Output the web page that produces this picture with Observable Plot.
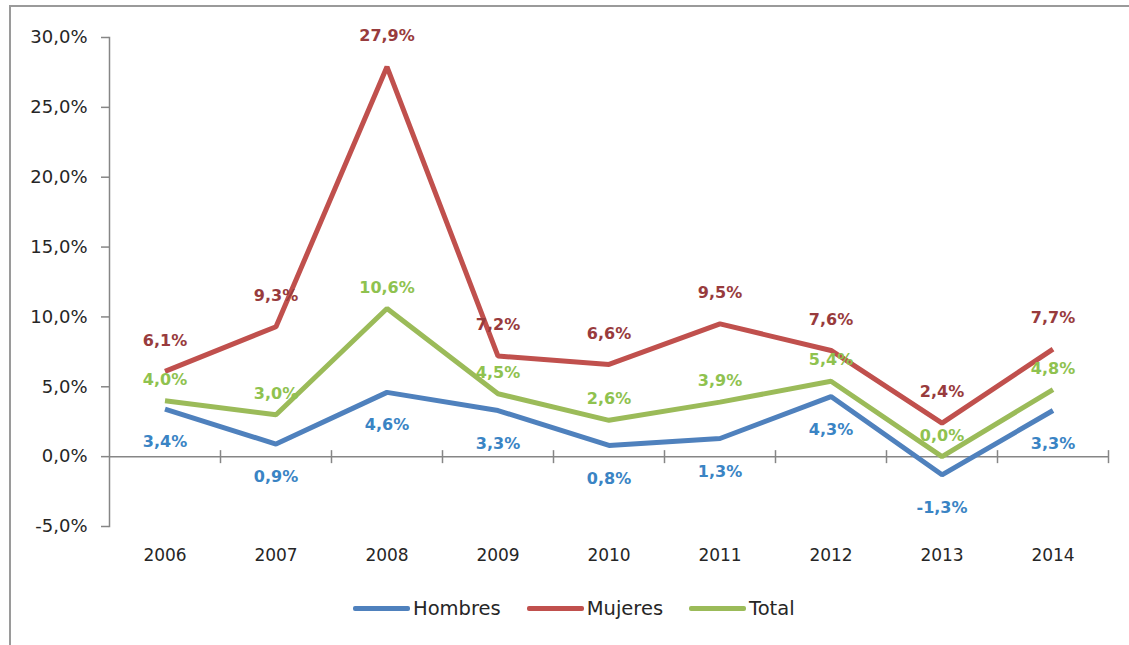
<!DOCTYPE html>
<html>
<head>
<meta charset="utf-8">
<script src="https://cdn.jsdelivr.net/npm/d3@7"></script>
<script src="https://cdn.jsdelivr.net/npm/@observablehq/plot@0.6"></script>
<style>
  html, body { margin: 0; padding: 0; background: #fff; }
  #wrap { position: relative; width: 1129px; height: 645px; overflow: hidden; font-family: "DejaVu Sans", sans-serif; }
  #frame { position: absolute; left: 9px; top: 5px; width: 1200px; height: 700px; border-left: 2px solid #9a9a9a; border-top: 2px solid #9a9a9a; }
  #chart { position: absolute; left: 0; top: 0; }
  #legend { position: absolute; left: 353px; top: 597px; display: flex; align-items: center; font-size: 19.5px; color: #262626; }
  .item { display: flex; align-items: center; margin-right: 26px; }
  .sw { width: 57px; height: 5px; border-radius: 2px; margin-right: 3px; }
</style>
</head>
<body>
<div id="wrap">
  <div id="frame"></div>
  <div id="chart"></div>
  <div id="legend"></div>
</div>
<script>
const years = [2006, 2007, 2008, 2009, 2010, 2011, 2012, 2013, 2014];
const hombres = [3.4, 0.9, 4.6, 3.3, 0.8, 1.3, 4.3, -1.3, 3.3];
const mujeres = [6.1, 9.3, 27.9, 7.2, 6.6, 9.5, 7.6, 2.4, 7.7];
const total   = [4.0, 3.0, 10.6, 4.5, 2.6, 3.9, 5.4, 0.0, 4.8];
const seriesNames = ["Hombres", "Mujeres", "Total"];
const yTicks = [-5, 0, 5, 10, 15, 20, 25, 30];

const lineColors = {Hombres: "#4f81bd", Mujeres: "#c0504d", Total: "#9bbb59"};
const labelColors = {Hombres: "#3a84c4", Mujeres: "#983b3d", Total: "#8fc24f"};
const labelDy = {Hombres: 33, Mujeres: -31, Total: -21};

const valuesBySeries = {Hombres: hombres, Mujeres: mujeres, Total: total};
const rows = seriesNames.flatMap(s => years.map((yr, i) => ({year: yr, serie: s, value: valuesBySeries[s][i]})));
const bounds = years.map(y => y + 0.5);

const fmt = v => v.toFixed(1).replace(".", ",") + "%";
const vbar = {draw(ctx) { ctx.moveTo(0, -6.5); ctx.lineTo(0, 6.5); }};

const chart = Plot.plot({
  width: 1129,
  height: 585,
  marginLeft: 109,
  marginRight: 21,
  marginTop: 37,
  marginBottom: 59,
  style: {fontFamily: "DejaVu Sans, sans-serif", background: "transparent", overflow: "visible"},
  x: {domain: [2005.5, 2014.5], label: null},
  y: {domain: [-5, 30], label: null},
  marks: [
    Plot.frame({anchor: "left", stroke: "#868686", strokeWidth: 1.5}),
    Plot.ruleY([0], {stroke: "#868686", strokeWidth: 1.5}),
    Plot.dot(bounds, {x: d => d, y: () => 0, symbol: vbar, fill: "none", stroke: "#868686", strokeWidth: 1.5}),
    Plot.axisY({ticks: yTicks, tickSize: 8, tickPadding: 14, tickFormat: fmt, fontSize: 18, stroke: "#868686", fill: "#262626", strokeWidth: 1.5}),
    Plot.axisX({ticks: years, tickSize: 0, tickPadding: 22, tickFormat: d => String(d), fontSize: 17, fill: "#262626"}),
    ...seriesNames.map(s => Plot.line(rows.filter(r => r.serie === s), {
      x: "year", y: "value", stroke: lineColors[s], strokeWidth: 5, strokeLinejoin: "miter", strokeLinecap: "butt"
    })),
    ...seriesNames.map(s => Plot.text(rows.filter(r => r.serie === s), {
      x: "year", y: "value", text: d => fmt(d.value), dy: labelDy[s], fill: labelColors[s], fontWeight: "bold", fontSize: 16
    }))
  ]
});
document.getElementById("chart").appendChild(chart);

const legend = document.getElementById("legend");
for (const s of seriesNames) {
  const item = document.createElement("div");
  item.className = "item";
  const sw = document.createElement("span");
  sw.className = "sw";
  sw.style.background = lineColors[s];
  const t = document.createElement("span");
  t.textContent = s;
  item.appendChild(sw);
  item.appendChild(t);
  legend.appendChild(item);
}
</script>
</body>
</html>
